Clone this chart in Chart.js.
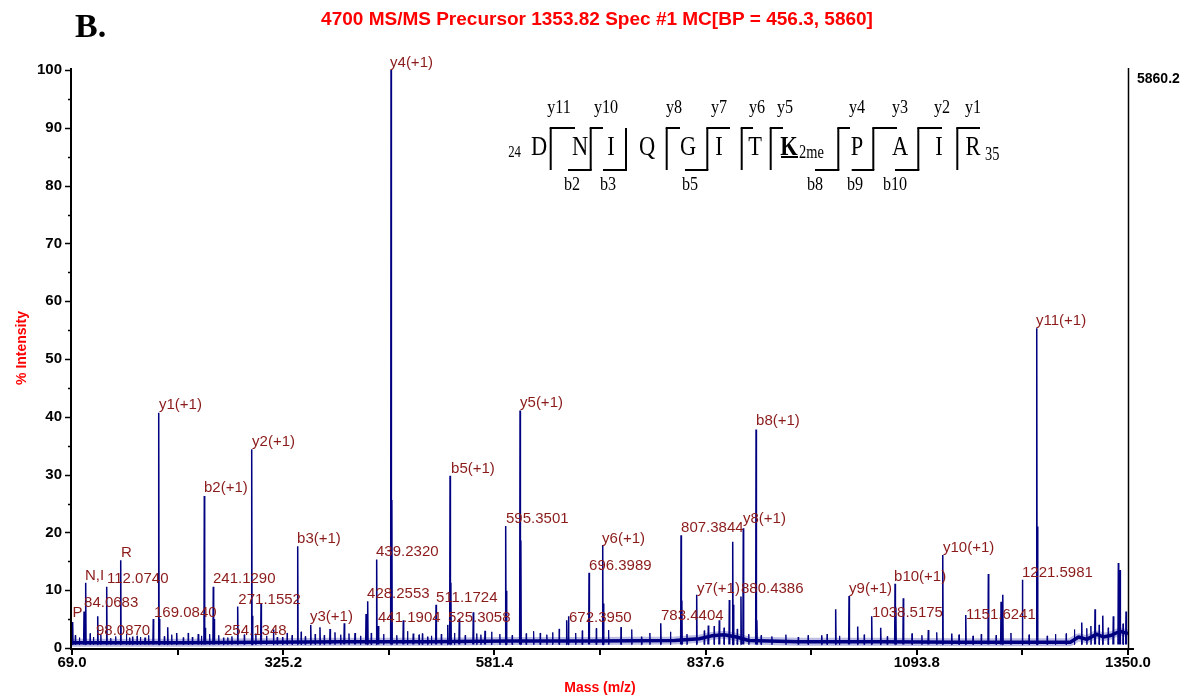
<!DOCTYPE html>
<html>
<head>
<meta charset="utf-8">
<script src="https://cdn.jsdelivr.net/npm/chart.js@4.4.0/dist/chart.umd.min.js"></script>
<style>
  html, body { margin: 0; padding: 0; background: #fff; }
  #wrap { width: 1194px; height: 696px; }
</style>
</head>
<body>
<div id="wrap"><canvas id="spectrum" width="1194" height="696"></canvas></div>
<script>
// peaks: m/z and % intensity
const peakMz = [69.8, 83.6, 85.6, 100.2, 111.1, 128.1, 142.6, 157.6, 167.6, 174.2, 175.2, 185.1, 196.0,
  222.2, 229.5, 230.5, 240.4, 241.4, 252.8, 270.0, 287.0, 288.0, 298.3, 313.4, 324.6, 342.8, 358.6,
  369.8, 382.0, 399.3, 412.3, 425.7, 427.7, 438.6, 440.6, 456.0, 457.0, 470.9, 483.0, 500.5, 510.6,
  524.8, 527.6, 528.6, 538.8, 555.8, 570.0, 595.1, 596.1, 612.5, 613.5, 669.1, 671.3, 696.2, 712.8,
  713.8, 760.0, 783.2, 807.8, 808.8, 826.8, 840.9, 854.2, 866.4, 870.5, 871.5, 880.5, 883.3, 898.8,
  899.8, 978.5, 995.4, 1011.6, 1022.1, 1039.1, 1050.0, 1067.4, 1068.4, 1077.4, 1107.8, 1125.3,
  1136.2, 1153.2, 1180.6, 1196.0, 1198.1, 1221.9, 1239.3, 1240.3, 1293.9, 1310.0, 1319.4, 1332.2,
  1338.3, 1340.3, 1347.6];
const peakInt = [4.5, 6.3, 11.3, 5.5, 10.6, 15.2, 2.0, 1.8, 5.0, 40.7, 5.0, 3.6, 2.6,
  2.4, 26.3, 3.5, 10.6, 5.0, 1.8, 7.2, 34.4, 5.6, 7.7, 3.2, 1.9, 17.6, 4.0,
  3.6, 3.3, 4.3, 2.6, 5.9, 8.1, 15.3, 3.8, 100, 25.6, 4.8, 2.5, 2.0, 7.5,
  4.0, 29.8, 11.3, 5.0, 6.2, 3.0, 21.1, 9.9, 41.1, 18.6, 4.8, 5.5, 13.0, 17.8,
  7.7, 2.0, 4.3, 19.5, 8.2, 9.2, 3.9, 4.8, 8.3, 18.4, 7.5, 8.9, 20.7, 37.8,
  4.8, 2.2, 6.7, 9.0, 3.7, 5.5, 3.5, 11.1, 7.0, 8.6, 3.1, 16.1,
  2.5, 5.7, 12.8, 8.0, 9.2, 11.8, 55.3, 21.0, 4.4, 6.7, 5.6, 5.5,
  14.7, 13.5, 6.3];

// small noise spikes riding on the floor
const noiseMz = [73, 78, 91, 95, 104, 116, 122, 135, 139, 148,
  152, 162, 181, 190, 204, 210, 215, 226, 236, 247,
  258, 263, 278, 292, 305, 318, 330, 336, 347, 352,
  364, 375, 388, 395, 405, 419, 432, 447, 463, 476,
  490, 494, 505, 517, 533, 546, 560, 565, 578, 588,
  603, 620, 629, 637, 645, 652, 660, 680, 688, 705,
  720, 735, 748, 770, 795, 815, 836, 848, 860, 876,
  890, 905, 918, 935, 950, 962, 985, 1000, 1030, 1058,
  1088, 1100, 1118, 1145, 1162, 1172, 1190, 1208, 1230, 1252,
  1262, 1275, 1285, 1300, 1305, 1315, 1326, 1344];
const noiseInt = [2.2, 1.8, 2.5, 1.9, 2.3, 1.7, 2.0, 2.4, 1.8, 2.1,
  1.9, 2.2, 2.0, 2.3, 1.8, 2.6, 1.9, 2.1, 2.4, 2.2,
  1.8, 2.0, 2.3, 2.5, 2.1, 1.9, 2.6, 2.2, 2.8, 2.0,
  2.4, 2.2, 2.7, 2.3, 2.5, 2.1, 2.6, 2.4, 2.2, 2.9,
  2.3, 2.5, 2.1, 2.4, 2.6, 2.2, 2.5, 2.3, 2.8, 2.4,
  2.2, 2.5, 2.9, 2.6, 2.3, 2.7, 3.3, 2.6, 3.0, 3.4,
  3.1, 3.6, 3.2, 2.6, 2.8, 2.4, 3.0, 3.8, 3.5, 3.3,
  2.4, 2.2, 2.0, 2.3, 1.9, 2.2, 2.4, 2.1, 2.3, 2.0,
  2.5, 2.2, 2.7, 2.3, 2.1, 2.4, 2.2, 2.6, 2.3, 2.1,
  2.4, 2.5, 3.2, 3.4, 3.8, 4.0, 3.5, 4.2];

// noise floor level along the m/z range
const baseMz = [69, 120, 200, 300, 400, 500, 600, 700, 800, 830, 845, 860, 875, 890, 950, 1050, 1150,
  1280, 1290, 1300, 1312, 1320, 1330, 1340, 1350];
const baseInt = [0.9, 0.9, 0.9, 1.0, 1.1, 1.1, 1.2, 1.2, 1.3, 1.6, 2.1, 2.3, 1.9, 1.3, 1.1, 1.1, 1.0,
  1.0, 1.9, 1.5, 2.4, 1.9, 2.2, 2.9, 2.5];

// axes
const xTicks = [69.0, 197.1, 325.2, 453.3, 581.4, 709.5, 837.6, 965.7, 1093.8, 1221.9, 1350.0];
const xTickLabels = ['69.0', '', '325.2', '', '581.4', '', '837.6', '', '1093.8', '', '1350.0'];
const yTicks = [0, 5, 10, 15, 20, 25, 30, 35, 40, 45, 50, 55, 60, 65, 70, 75, 80, 85, 90, 95, 100];
const yTickLabels = ['0', '', '10', '', '20', '', '30', '', '40', '', '50', '', '60', '', '70', '', '80', '', '90', '', '100'];

// peak annotations: text, m/z, % intensity of the text baseline
const labelText = ['y4(+1)', 'y11(+1)', 'y1(+1)', 'y5(+1)', 'b8(+1)', 'y2(+1)', 'b5(+1)', 'b2(+1)',
  '595.3501', 'y8(+1)', '807.3844', 'b3(+1)', 'y6(+1)', 'y10(+1)', '439.2320', 'R', 'N,I', '112.0740',
  '241.1290', '1221.5981', '696.3989', 'b10(+1)', 'y9(+1)', 'y7(+1)', '880.4386', '428.2553',
  '511.1724', '84.0683', '271.1552', 'P', '169.0840', '1038.5175', '1151.6241', 'y3(+1)', '441.1904',
  '525.3058', '672.3950', '783.4404', '98.0870', '254.1348'];
const labelMz = [454.8, 1238.4, 174.5, 612.5, 898.8, 287.4, 528.8, 229.1,
  595.5, 883.0, 807.8, 342.0, 712.0, 1125.6, 437.8, 128.4, 84.8, 111.5,
  240.0, 1221.4, 696.2, 1066.2, 1011.6, 827.2, 880.5, 426.9,
  510.6, 83.6, 270.8, 69.6, 168.5, 1039.5, 1153.5, 357.7, 440.2,
  525.1, 671.9, 783.5, 98.1, 253.4];
const labelInt = [100.5, 55.9, 41.3, 41.7, 38.6, 34.9, 30.3, 27.0,
  21.6, 21.6, 20.1, 18.2, 18.2, 16.6, 15.9, 15.7, 11.8, 11.2,
  11.2, 12.3, 13.5, 11.6, 9.5, 9.5, 9.5, 8.7,
  8.0, 7.1, 7.6, 5.4, 5.4, 5.4, 5.0, 4.7, 4.5,
  4.5, 4.5, 4.8, 2.2, 2.2];

// sequence inset
const residues = ['D', 'N', 'I', 'Q', 'G', 'I', 'T', 'K', 'P', 'A', 'I', 'R'];
const yIons = ['y11', 'y10', '', 'y8', 'y7', 'y6', 'y5', 'y4', 'y3', 'y2', 'y1'];
const bIons = ['', 'b2', 'b3', '', 'b5', '', '', 'b8', 'b9', 'b10', ''];

const NAVY = '#000080';
const LABEL_RED = '#8b1a1a';
const SANS = '"Liberation Sans", Arial, sans-serif';
const SERIF = '"Liberation Serif", "Times New Roman", serif';

// build spikes from the peak lists
function spikes(mzs, ints) {
  const pts = [];
  mzs.forEach((m, i) => {
    pts.push({ x: m - 0.45, y: 0.6 }, { x: m, y: ints[i] }, { x: m + 0.45, y: 0.6 }, { x: m + 0.46, y: null });
  });
  return pts;
}
const floorPoints = baseMz.map((m, i) => ({ x: m, y: baseInt[i] }));

function txt(ctx, s, x, y, font, color, align, sx) {
  ctx.save();
  ctx.font = font;
  ctx.fillStyle = color;
  ctx.textAlign = align || 'left';
  ctx.textBaseline = 'alphabetic';
  ctx.translate(x, y);
  ctx.scale(sx || 1, 1);
  ctx.fillText(s, 0, 0);
  ctx.restore();
}

function line(ctx, x1, y1, x2, y2, w) {
  ctx.beginPath();
  ctx.lineWidth = w;
  ctx.moveTo(x1, y1);
  ctx.lineTo(x2, y2);
  ctx.stroke();
}

const decorations = {
  id: 'decorations',
  afterDraw(chart) {
    const ctx = chart.ctx;
    const { left, right, top, bottom } = chart.chartArea;
    const xs = chart.scales.x, ys = chart.scales.y;
    ctx.save();
    ctx.strokeStyle = '#000';

    // axes
    line(ctx, left - 1, top - 2, left - 1, bottom + 2, 2);
    line(ctx, left - 2, bottom + 1, right + 6, bottom + 1, 2);
    line(ctx, right + 0.5, top - 2, right + 0.5, bottom, 1.5);

    // tick marks
    yTicks.forEach((v, i) => {
      const py = Math.round(ys.getPixelForValue(v)) + 0.5;
      line(ctx, left - (yTickLabels[i] ? 7 : 4), py, left - 1, py, 1.5);
    });
    xTicks.forEach(v => {
      const px = Math.round(xs.getPixelForValue(v));
      line(ctx, px, bottom + 1, px, bottom + 7, 2);
    });

    // peak labels
    labelText.forEach((s, i) => {
      txt(ctx, s, xs.getPixelForValue(labelMz[i]), ys.getPixelForValue(labelInt[i]), '15px ' + SANS, LABEL_RED);
    });

    // titles
    txt(ctx, '4700 MS/MS Precursor 1353.82 Spec #1 MC[BP = 456.3, 5860]', 597, 25, 'bold 19px ' + SANS, '#ff0000', 'center');
    txt(ctx, 'B.', 75, 37, 'bold 34px ' + SERIF, '#000');
    txt(ctx, '5860.2', right + 9, 83, 'bold 14px ' + SANS, '#000');
    txt(ctx, 'Mass (m/z)', (left + right) / 2, 692, 'bold 14px ' + SANS, '#ff0000', 'center');
    ctx.save();
    ctx.translate(26, 348);
    ctx.rotate(-Math.PI / 2);
    txt(ctx, '% Intensity', 0, 0, 'bold 14px ' + SANS, '#ff0000', 'center');
    ctx.restore();

    // sequence inset
    const resX = [539, 580, 611, 647, 688, 719, 755, 789, 857, 900, 939, 973];
    const cutX = [550.7, 590.7, 626, 666.7, 707.3, 741.7, 770.7, 838.3, 873.3, 918.3, 957.3];
    const topTo = [575, 603, null, 680, 730, 753, 783, 850, 897, 942, 980];
    const botFrom = [null, 568, 603, null, 685, null, null, 815, 851.7, 895, null];
    const yLabX = [559, 606, 0, 674, 719, 757, 785, 857, 900, 942, 973];
    const bLabX = [0, 572, 608, 0, 690, 0, 0, 815, 855, 895, 0];
    residues.forEach((r, i) => {
      const bold = r === 'K' && i === 7;
      txt(ctx, r, resX[i], 155, (bold ? 'bold ' : '') + '28px ' + SERIF, '#000', 'center', 0.8);
    });
    line(ctx, 781, 157, 798, 157, 2);
    txt(ctx, '24', 521, 157, '16px ' + SERIF, '#000', 'right', 0.8);
    txt(ctx, '2me', 799, 158, '18px ' + SERIF, '#000', 'left', 0.8);
    txt(ctx, '35', 985, 160, '18px ' + SERIF, '#000', 'left', 0.8);
    cutX.forEach((x, i) => {
      line(ctx, x, 128, x, 170, 2);
      if (topTo[i]) line(ctx, x - 1, 128, topTo[i], 128, 2);
      if (botFrom[i]) line(ctx, botFrom[i], 170, x + 1, 170, 2);
      if (yIons[i]) txt(ctx, yIons[i], yLabX[i], 113, '19px ' + SERIF, '#000', 'center', 0.85);
      if (bIons[i]) txt(ctx, bIons[i], bLabX[i], 190, '19px ' + SERIF, '#000', 'center', 0.85);
    });
    ctx.restore();
  }
};

new Chart(document.getElementById('spectrum').getContext('2d'), {
  type: 'line',
  data: {
    datasets: [
      { data: spikes(peakMz, peakInt), borderColor: NAVY, borderWidth: 1.5, spanGaps: false },
      { data: spikes(noiseMz, noiseInt), borderColor: NAVY, borderWidth: 1, spanGaps: false },
      { data: floorPoints, borderColor: NAVY, borderWidth: 3.5 },
      { data: floorPoints, borderColor: 'rgba(40, 40, 170, 0.3)', borderWidth: 8 }
    ]
  },
  options: {
    responsive: false,
    animation: false,
    devicePixelRatio: 1,
    layout: { padding: { top: 70, right: 66, left: 0, bottom: 0 } },
    plugins: { legend: { display: false }, tooltip: { enabled: false } },
    elements: { point: { radius: 0 }, line: { tension: 0, borderJoinStyle: 'bevel' } },
    scales: {
      x: {
        type: 'linear', min: 69, max: 1350,
        grid: { display: false, drawTicks: false },
        border: { display: false },
        afterBuildTicks: s => { s.ticks = xTicks.map(v => ({ value: v })); },
        afterFit: s => { s.height = 48; },
        ticks: {
          autoSkip: false, maxRotation: 0, padding: 6, color: '#000',
          font: { family: 'Liberation Sans', size: 15, weight: 'bold' },
          callback: (v, i) => xTickLabels[i]
        }
      },
      y: {
        min: 0, max: 100,
        grid: { display: false, drawTicks: false },
        border: { display: false },
        afterBuildTicks: s => { s.ticks = yTicks.map(v => ({ value: v })); },
        afterFit: s => { s.width = 72; },
        ticks: {
          autoSkip: false, padding: 10, color: '#000',
          font: { family: 'Liberation Sans', size: 15, weight: 'bold' },
          callback: (v, i) => yTickLabels[i]
        }
      }
    }
  },
  plugins: [decorations]
});
</script>
</body>
</html>
